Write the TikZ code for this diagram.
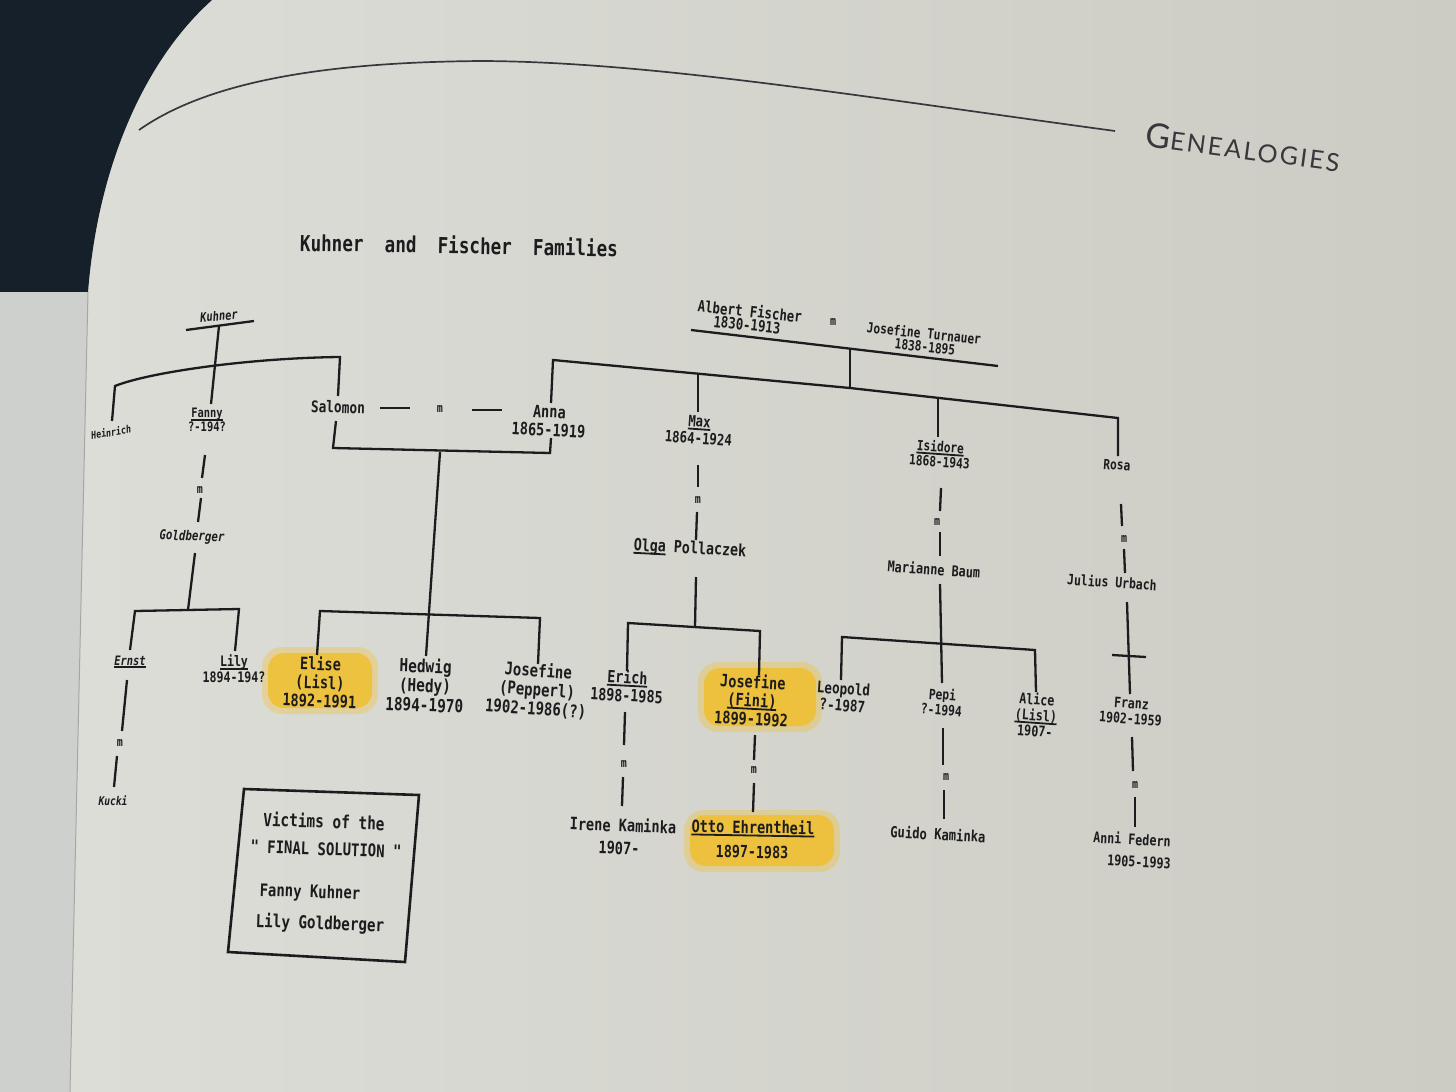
\documentclass[tikz,border=0pt]{standalone}
\usepackage{fontspec}
\newfontfamily\tw{DejaVu Sans Mono}[FakeStretch=0.8]
\newfontfamily\hdr{Lato}[LetterSpace=9]
\newcommand\ulx[1]{\setbox0\hbox{#1}\rlap{\rule[-3pt]{\wd0}{1.8pt}}\box0\relax}
\definecolor{ink}{RGB}{28,28,30}
\definecolor{pageL}{RGB}{222,222,217}
\definecolor{pageR}{RGB}{204,204,196}
\definecolor{darkc}{RGB}{22,32,42}
\definecolor{leftp}{RGB}{206,208,206}
\definecolor{hdrc}{RGB}{55,55,60}
\definecolor{hl}{RGB}{240,192,46}
\tikzset{
  lbl/.style={font=\tw\bfseries\linespread{1.08}\fontsize{#1}{#1}\selectfont, text=ink, inner sep=0pt, align=center},
  lbl/.default=16,
  itl/.style={font=\tw\bfseries\itshape\fontsize{#1}{#1}\selectfont, text=ink, inner sep=0pt, align=center},
  itl/.default=13,
  mk/.style={font=\tw\bfseries\fontsize{12.5}{12.5}\selectfont, text=ink, inner sep=0pt},
  ln/.style={line width=2.3pt, draw=ink},
  thinln/.style={line width=1.6pt, draw=ink},
  glow/.style={fill=hl, opacity=0.35, rounded corners=20pt},
  blob/.style={fill=hl, opacity=0.85, rounded corners=16pt},
}
\begin{document}
\begin{tikzpicture}[x=1pt,y=-1pt]
\useasboundingbox (0,0) rectangle (1456,1092);
% ---------- page background ----------
\shade[left color=pageL, right color=pageR] (0,0) rectangle (1456,1092);
\fill[darkc] (0,0) -- (212,0) .. controls (145,60) and (98,165) .. (88,292) -- (0,292) -- cycle;
\fill[leftp] (0,292) -- (88,292) -- (70,1092) -- (0,1092) -- cycle;
\draw[line width=1pt, draw=black!35] (88,292) -- (70,1092);
% ---------- header ----------
\coordinate (hd1) at (139,130);
\coordinate (hd2) at (483,61);
\coordinate (hd3) at (1115,131);
\draw[line width=1.7pt, draw=hdrc] (hd1) .. controls (210,80) and (330,62) .. (hd2)
      .. controls (650,62) and (850,95) .. (hd3);
\node[font=\hdr\fontsize{25}{25}\selectfont, text=hdrc, inner sep=0pt, rotate=-7.5] (gen) at (1243,147)
  {{\fontsize{34}{34}\selectfont G}ENEALOGIES};
\node[lbl=22, rotate=-1] (title) at (459,245) {Kuhner~~and~~Fischer~~Families};

% ---------- highlights ----------
\fill[glow] (262,647) rectangle (378,714);
\fill[blob] (268,653) rectangle (372,708);
\fill[glow] (698,662) rectangle (822,732);
\fill[blob] (704,668) rectangle (816,726);
\fill[glow] (684,810) rectangle (840,872);
\fill[blob] (690,815) rectangle (834,866);

% ---------- Kuhner family ----------
\node[itl=13, rotate=5] (kuhner) at (219,316) {Kuhner};
\node[itl=10.5, rotate=10] (heinrich) at (111,432) {Heinrich};
\node[lbl=13] (fanny) at (207,420) {\ulx{Fanny}\\?-194?};
\node[mk] (m1) at (200,490) {m};
\node[itl=13.5, rotate=-2] (gold) at (192,537) {Goldberger};
\node[itl=13] (ernst) at (130,662) {\ulx{Ernst}};
\node[mk] (m2) at (120,743) {m};
\node[itl=12] (kucki) at (113,801) {Kucki};
\node[lbl=14.5] (lily) at (234,669) {\ulx{Lily}\\1894-194?};

\coordinate (kA) at (186,330); \coordinate (kB) at (254,321);
\coordinate (kT) at (219,326); \coordinate (kF) at (211,404);
\coordinate (aL) at (115,386); \coordinate (aR) at (340,357);
\coordinate (aS) at (338,396); \coordinate (hB) at (112,421);
\draw[ln] (kA) -- (kB);
\draw[ln] (kT) -- (kF);
\draw[ln] (hB) -- (aL) .. controls (150,372) and (250,358) .. (aR) -- (aS);

\coordinate (f1) at (205,455); \coordinate (f2) at (202,478);
\coordinate (f3) at (201,498); \coordinate (f4) at (198,522);
\draw[ln] (f1) -- (f2); \draw[ln] (f3) -- (f4);
\coordinate (g1) at (195,553); \coordinate (gJ) at (188,610);
\coordinate (gL) at (135,611); \coordinate (gR) at (239,609);
\coordinate (eT) at (130,650); \coordinate (lT) at (235,651);
\draw[ln] (g1) -- (gJ);
\draw[ln] (eT) -- (gL) -- (gR) -- (lT);
\coordinate (e1) at (127,680); \coordinate (e2) at (122,731);
\coordinate (e3) at (117,756); \coordinate (e4) at (114,787);
\draw[ln] (e1) -- (e2); \draw[ln] (e3) -- (e4);

% ---------- Salomon & Anna ----------
\node[lbl=16, rotate=-2] (salomon) at (338,407) {Salomon};
\node[mk] (m3) at (440,409) {m};
\node[lbl=17, rotate=-3] (anna) at (549,421) {Anna\\1865-1919};
\node[lbl=17, rotate=-2] (elise) at (320,682) {Elise\\(Lisl)\\1892-1991};
\node[lbl=18, rotate=-2] (hedwig) at (425,685) {Hedwig\\(Hedy)\\1894-1970};
\node[lbl=17.5, rotate=-4] (pepperl) at (537,690) {Josefine\\(Pepperl)\\1902-1986(?)};

\coordinate (d1) at (380,408); \coordinate (d2) at (410,408);
\coordinate (d3) at (472,410); \coordinate (d4) at (502,410);
\draw[thinln] (d1) -- (d2); \draw[thinln] (d3) -- (d4);
\coordinate (sB) at (336,421); \coordinate (sC) at (333,448);
\coordinate (anC) at (550,453); \coordinate (anB) at (551,438);
\draw[ln] (sB) -- (sC) -- (anC) -- (anB);
\coordinate (cT) at (440,452); \coordinate (hT) at (426,656);
\draw[ln] (cT) -- (hT);
\coordinate (bL) at (320,611); \coordinate (bR) at (540,618);
\coordinate (elT) at (317,655); \coordinate (peT) at (538,664);
\draw[ln] (elT) -- (bL) -- (bR) -- (peT);

% ---------- Fischer family ----------
\node[lbl=15.5, rotate=-6] (albert) at (750,311) {Albert Fischer};
\node[lbl=15.5, rotate=-6] (albertD) at (747,325) {1830-1913};
\node[mk] (m4) at (833,322) {m};
\node[lbl=14, rotate=-6] (turnauer) at (924,333) {Josefine Turnauer};
\node[lbl=14, rotate=-6] (turnauerD) at (925,347) {1838-1895};
\node[lbl=15.5, rotate=-4] (max) at (699,430) {\ulx{Max}\\1864-1924};
\node[lbl=14, rotate=-4] (isidore) at (940,454) {\ulx{Isidore}\\1868-1943};
\node[lbl=14, rotate=-4] (rosa) at (1117,465) {Rosa};

\coordinate (fa1) at (691,330); \coordinate (fa2) at (998,366);
\draw[ln] (fa1) -- (fa2);
\coordinate (fv1) at (850,348); \coordinate (fbM) at (850,388);
\draw[ln] (fv1) -- (fbM);
\coordinate (anT) at (551,403); \coordinate (fbL) at (553,360);
\coordinate (fbR) at (1118,418); \coordinate (roT) at (1118,456);
\draw[ln] (anT) -- (fbL) -- (fbM) -- (fbR) -- (roT);
\coordinate (mxT) at (698,374); \coordinate (mxB) at (698,412);
\draw[ln] (mxT) -- (mxB);
\coordinate (isT) at (938,398); \coordinate (isB) at (938,437);
\draw[ln] (isT) -- (isB);

% Max & Olga
\node[mk] (m5) at (698,500) {m};
\node[lbl=16.7, rotate=-3] (olga) at (690,549) {\ulx{Olga} Pollaczek};
\coordinate (mx1) at (698,465); \coordinate (mx2) at (698,487);
\coordinate (mx3) at (697,512); \coordinate (mx4) at (696,540);
\draw[ln] (mx1) -- (mx2); \draw[ln] (mx3) -- (mx4);
\coordinate (ol1) at (696,577); \coordinate (olJ) at (695,627);
\draw[ln] (ol1) -- (olJ);
\coordinate (obL) at (628,623); \coordinate (obR) at (760,631);
\coordinate (erT) at (627,671); \coordinate (fiT) at (759,675);
\draw[ln] (erT) -- (obL) -- (obR) -- (fiT);

\node[lbl=16.7, rotate=-3] (erich) at (627,686) {\ulx{Erich}\\1898-1985};
\node[lbl=17, rotate=-3] (fini) at (752,700) {Josefine\\\ulx{(Fini)}\\1899-1992};
\node[mk] (m8) at (624,764) {m};
\node[mk] (m9) at (754,770) {m};
\coordinate (er1) at (625,712); \coordinate (er2) at (624,745);
\coordinate (er3) at (623,777); \coordinate (er4) at (622,806);
\draw[ln] (er1) -- (er2); \draw[ln] (er3) -- (er4);
\coordinate (fi1) at (755,735); \coordinate (fi2) at (754,760);
\coordinate (fi3) at (754,783); \coordinate (fi4) at (753,812);
\draw[ln] (fi1) -- (fi2); \draw[ln] (fi3) -- (fi4);
\node[lbl=17, rotate=-2] (irene) at (623,825) {Irene Kaminka};
\node[lbl=17, rotate=-2] (ireneD) at (619,848) {1907-};
\node[lbl=17, rotate=-1] (otto) at (753,828) {\ulx{Otto Ehrentheil}};
\node[lbl=16.7, rotate=-1] (ottoD) at (752,852) {1897-1983};

% Isidore & Marianne
\node[mk] (m6) at (937,522) {m};
\node[lbl=14.8, rotate=-4] (marianne) at (934,569) {Marianne Baum};
\coordinate (is1) at (941,488); \coordinate (is2) at (940,511);
\coordinate (is3) at (940,532); \coordinate (is4) at (940,556);
\draw[ln] (is1) -- (is2); \draw[ln] (is3) -- (is4);
\coordinate (ma1) at (940,584); \coordinate (paT) at (942,683);
\draw[ln] (ma1) -- (paT);
\coordinate (ibL) at (842,637); \coordinate (ibR) at (1035,650);
\coordinate (leT) at (841,680); \coordinate (alT) at (1036,692);
\draw[ln] (leT) -- (ibL) -- (ibR) -- (alT);
\node[lbl=15.8, rotate=-4] (leopold) at (843,697) {Leopold\\?-1987};
\node[lbl=14.2, rotate=-4] (pepi) at (942,702) {Pepi\\?-1994};
\node[lbl=14.6, rotate=-4] (alice) at (1036,715) {Alice\\\ulx{(Lisl)}\\1907-};
\coordinate (pa1) at (943,728); \coordinate (pa2) at (943,765);
\coordinate (pa3) at (944,790); \coordinate (pa4) at (944,819);
\draw[ln] (pa1) -- (pa2); \draw[ln] (pa3) -- (pa4);
\node[mk] (m10) at (946,777) {m};
\node[lbl=15.2, rotate=-3] (guido) at (938,834) {Guido Kaminka};

% Rosa & Julius
\node[mk] (m7) at (1124,539) {m};
\node[lbl=14.3, rotate=-4] (julius) at (1112,582) {Julius Urbach};
\coordinate (ro1) at (1121,504); \coordinate (ro2) at (1122,526);
\coordinate (ro3) at (1124,549); \coordinate (ro4) at (1125,573);
\draw[ln] (ro1) -- (ro2); \draw[ln] (ro3) -- (ro4);
\coordinate (ju1) at (1127,602); \coordinate (frT) at (1130,694);
\draw[ln] (ju1) -- (frT);
\coordinate (cx1) at (1112,655); \coordinate (cx2) at (1146,657);
\draw[ln] (cx1) -- (cx2);
\node[lbl=14.4, rotate=-4] (franz) at (1131,711) {Franz\\1902-1959};
\coordinate (fr1) at (1132,737); \coordinate (fr2) at (1133,771);
\coordinate (fr3) at (1135,797); \coordinate (fr4) at (1135,827);
\draw[ln] (fr1) -- (fr2); \draw[ln] (fr3) -- (fr4);
\node[mk] (m11) at (1135,785) {m};
\node[lbl=14.6, rotate=-3] (anni) at (1132,839) {Anni Federn};
\node[lbl=14.6, rotate=-3] (anniD) at (1139,862) {1905-1993};

% ---------- victims box ----------
\coordinate (v1) at (244,789); \coordinate (v2) at (419,795);
\coordinate (v3) at (405,962); \coordinate (v4) at (228,952);
\draw[line width=2.6pt, draw=ink] (v1) -- (v2) -- (v3) -- (v4) -- cycle;
\node[lbl=18, rotate=-2] (vic1) at (324,821) {Victims of the};
\node[lbl=17.4, rotate=-2] (vic2) at (326,849) {" FINAL SOLUTION "};
\node[lbl=17.4, rotate=-2] (vic3) at (310,893) {Fanny Kuhner};
\node[lbl=17.8, rotate=-2] (vic4) at (320,924) {Lily Goldberger};
\end{tikzpicture}
\end{document}
